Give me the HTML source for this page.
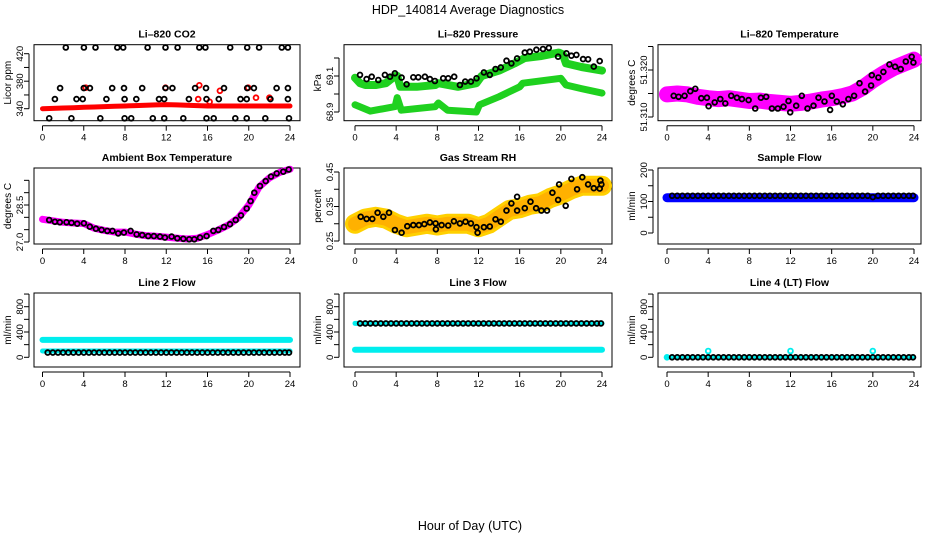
<!DOCTYPE html>
<html><head><meta charset="utf-8"><style>
html,body{margin:0;padding:0;background:#fff;}
svg{display:block;font-family:"Liberation Sans",Arial,sans-serif;}
</style></head><body>
<svg id="c" width="936" height="540" viewBox="0 0 936 540" xmlns="http://www.w3.org/2000/svg">
<text x="468" y="14" font-size="12.5" text-anchor="middle">HDP_140814  Average Diagnostics</text>
<text x="470" y="530" font-size="12.5" text-anchor="middle">Hour of Day (UTC)</text>
</svg>
<script>
// ---- data ----
const hours25 = [0,1,2,3,4,5,6,7,8,9,10,11,12,13,14,15,16,17,18,19,20,21,22,23,24];
const xTicks = [0,4,8,12,16,20,24];

const co2Red = [340,340.5,341,341.5,342,342.5,343,343.5,344,344.5,345,345.5,346,345.5,345,344.5,344,344,344,344,344,344,344,344,344];
const co2BlkHrs = [2.26,4.01,5.14,7.25,7.83,10.19,11.93,13.1,15.2,15.8,18.2,19.85,21.0,23.2,23.8,
 1.71,4.0,4.6,6.76,7.9,9.67,11.93,12.6,14.8,15.85,17.6,19.85,20.5,22.7,23.8,
 1.2,3.3,3.9,6.2,7.96,9.1,11.3,11.8,14.2,15.9,17.1,19.2,19.8,22.1,23.8,
 0.65,2.8,5.6,7.96,8.6,10.7,11.8,13.65,15.9,16.6,18.7,19.8,21.6,23.9];
const co2BlkVals = [429,429,429,429,429,429,429,429,429,429,429,429,429,429,429,
 370,370,370,370,370,370,370,370,370,370,370,370,370,370,370,
 354,354,354,354,354,354,354,354,354,354,354,354,354,354,354,
 326,326,326,326,326,326,326,326,326,326,326,326,326,326];
const co2RedOutHrs = [4.2,11.93,15.2,17.2,19.95,20.7,22,15.1,16.2];
const co2RedOutVals = [370.5,370.5,374,366,370.5,356,356,354,350];

const presHrsA = [0,0.5,1,2,3,3.9,4.1,4.4,6,7.8,8.1,10,11.8,12.3,14,15.5,16.5,18,19.8,20.2,20.5,22,24];
const presA = [69.09,69.06,69.05,69.05,69.06,69.1,69.1,69.04,69.04,69.05,69.06,69.04,69.06,69.1,69.13,69.17,69.2,69.21,69.23,69.22,69.17,69.15,69.13];
const presHrsB = [0,1.5,3.9,4.1,4.5,7.8,8.1,9,11.8,12.1,14,16,16.3,20,20.5,22,24];
const presB = [68.94,68.905,68.93,68.98,68.91,68.93,68.95,68.91,68.9,68.94,68.985,69.04,69.06,69.087,69.05,69.03,69.005];
const presBlkHrs = [0.49,1.13,1.62,2.26,2.91,3.40,3.88,4.53,5.01,5.66,6.15,6.79,7.28,7.76,8.57,9.06,9.64,10.19,10.71,11.26,11.81,12.52,13.1,13.65,14.17,14.72,15.2,15.75,16.5,16.98,17.63,18.27,18.83,19.73,20.54,21.03,21.51,22.16,22.65,23.2,23.78];
const presBlk = [69.106,69.083,69.096,69.078,69.106,69.096,69.115,69.091,69.054,69.093,69.093,69.096,69.083,69.072,69.087,69.087,69.096,69.05,69.069,69.069,69.087,69.12,69.106,69.139,69.148,69.185,69.17,69.198,69.23,69.235,69.246,69.25,69.256,69.207,69.226,69.213,69.217,69.194,69.193,69.152,69.183];

const licTemp = [51.3148,51.3150,51.3148,51.3143,51.3140,51.3138,51.3140,51.3137,51.3134,51.3135,51.3132,51.3130,51.3128,51.3130,51.3133,51.3137,51.3140,51.3144,51.3150,51.3162,51.3178,51.3192,51.3204,51.3213,51.3222];
const licBlkHrs = [0.65,1.13,1.71,2.26,2.75,3.33,3.88,4.04,4.63,5.18,5.66,6.24,6.79,7.28,7.93,8.57,9.12,9.64,10.19,10.77,11.32,11.81,11.97,12.55,13.1,13.65,14.23,14.72,15.3,15.85,16.01,16.5,17.08,17.63,18.18,18.7,19.25,19.83,19.9,20.54,21.03,21.61,22.16,22.71,23.2,23.78,23.94];
const licBlk = [51.3145,51.3143,51.3145,51.3155,51.3160,51.3140,51.3141,51.3123,51.3131,51.3138,51.3129,51.3145,51.3141,51.3138,51.3136,51.3118,51.3141,51.3143,51.3118,51.3118,51.3122,51.3134,51.3110,51.3124,51.3145,51.3118,51.3124,51.3141,51.3133,51.3115,51.3145,51.3133,51.3127,51.3138,51.3145,51.3172,51.3154,51.3167,51.3189,51.3184,51.3196,51.3212,51.3207,51.3202,51.3218,51.3228,51.3216];

const ambTemp = [27.92,27.86,27.80,27.77,27.75,27.56,27.47,27.40,27.40,27.32,27.26,27.23,27.20,27.16,27.12,27.15,27.30,27.48,27.68,27.98,28.50,29.23,29.60,29.82,29.95];
const ambBlkHrs = [0.65,1.2,1.68,2.33,2.81,3.36,4.01,4.59,5.18,5.73,6.28,6.79,7.34,7.89,8.54,9.12,9.67,10.25,10.8,11.39,11.87,12.52,13.07,13.65,14.23,14.72,15.27,15.91,16.56,17.05,17.6,18.18,18.73,19.25,19.8,20.18,20.54,21.09,21.64,22.16,22.71,23.35,23.87];
const ambBlk = [27.89,27.82,27.80,27.80,27.78,27.74,27.76,27.62,27.54,27.49,27.45,27.45,27.35,27.38,27.45,27.31,27.28,27.24,27.24,27.22,27.18,27.22,27.15,27.13,27.11,27.11,27.18,27.24,27.45,27.49,27.61,27.72,27.89,28.08,28.36,28.66,29.0,29.27,29.47,29.65,29.78,29.85,29.94];

const rhBand = [0.30,0.315,0.32,0.315,0.30,0.29,0.295,0.30,0.295,0.30,0.30,0.30,0.29,0.30,0.32,0.34,0.345,0.355,0.36,0.375,0.385,0.40,0.41,0.41,0.41];
const rhBlkHrs = [0.55,1.13,1.68,2.2,2.75,3.3,3.88,4.53,5.08,5.66,6.21,6.73,7.28,7.83,7.86,8.41,9.06,9.61,10.19,10.74,11.26,11.81,11.91,12.52,13.1,13.65,14.17,14.72,15.2,15.75,15.75,16.5,17.05,17.6,18.11,18.66,19.18,19.73,19.83,20.47,21.03,21.58,22.09,22.65,23.2,23.78,23.84,23.94];
const rhBlk = [0.320,0.314,0.314,0.332,0.320,0.332,0.282,0.274,0.293,0.296,0.296,0.299,0.304,0.301,0.284,0.296,0.295,0.307,0.301,0.306,0.301,0.290,0.274,0.290,0.292,0.313,0.306,0.338,0.359,0.338,0.378,0.345,0.364,0.345,0.338,0.338,0.390,0.369,0.414,0.352,0.430,0.400,0.435,0.414,0.403,0.402,0.425,0.414];

const flowHrs = [0.5,1,1.5,2,2.5,3,3.5,4,4.5,5,5.5,6,6.5,7,7.5,8,8.5,9,9.5,10,10.5,11,11.5,12,12.5,13,13.5,14,14.5,15,15.5,16,16.5,17,17.5,18,18.5,19,19.5,20,20.5,21,21.5,22,22.5,23,23.5,23.9];
const sampleBlue = [112,112,112,112,112,112,112,112,112,112,112,112,112,112,112,112,112,112,112,112,112,112,112,112,112];
const sampleBlk = [118,118,118,118,118,118,118,118,118,118,118,118,118,118,118,118,118,118,118,118,118,118,118,118,118,118,118,118,118,118,118,118,118,118,118,118,118,118,118,114,118,118,118,118,118,118,118,118];
const line2CyanHi = [275,275,275,275,275,275,275,275,275,275,275,275,275,275,275,275,275,275,275,275,275,275,275,275,275];
const line2CyanLo = [100,100,100,100,100,100,100,100,100,100,100,100,100,100,100,100,100,100,100,100,100,100,100,100,100];
const line2Blk = [75,75,75,75,75,75,75,75,75,75,75,75,75,75,75,75,75,75,75,75,75,75,75,75,75,75,75,75,75,75,75,75,75,75,75,75,75,75,75,75,75,75,75,75,75,75,75,75];
const line3CyanHi = [536,536,536,536,536,536,536,536,536,536,536,536,536,536,536,536,536,536,536,536,536,536,536,536,536];
const line3CyanLo = [120,120,120,120,120,120,120,120,120,120,120,120,120,120,120,120,120,120,120,120,120,120,120,120,120];
const line3Blk = [536,536,536,536,536,536,536,536,536,536,536,536,536,536,536,536,536,536,536,536,536,536,536,536,536,536,536,536,536,536,536,536,536,536,536,536,536,536,536,536,536,536,536,536,536,536,536,536];
const line4Cyan = [0,0,0,0,0,0,0,0,0,0,0,0,0,0,0,0,0,0,0,0,0,0,0,0,0];
const line4Blk = [0,0,0,0,0,0,0,0,0,0,0,0,0,0,0,0,0,0,0,0,0,0,0,0,0,0,0,0,0,0,0,0,0,0,0,0,0,0,0,0,0,0,0,0,0,0,0,0];
const line4OutHrs = [0,4,12,20];
const line4OutVals = [0,100,100,100];

// ---- drawing ----
const svg = document.getElementById('c');
const NS = 'http://www.w3.org/2000/svg';
function mk(tag, attrs, parent){const e=document.createElementNS(NS,tag);for(const k in attrs)e.setAttribute(k,attrs[k]);(parent||svg).appendChild(e);return e;}

const cols=[{l:34,r:300,x0:42.5,x1:290},{l:344,r:612,x0:355,x1:602},{l:658,r:921,x0:667,x1:914}];
const rows=[{t:44.7,b:120.7},{t:168,b:244},{t:293,b:367}];

function panel(name,ci,ri,title,ylab,v1,p1,v2,p2,yt,yl){
  const c=cols[ci],r=rows[ri];
  const g=mk('g',{});
  
  
  const xs=h=>c.x0+(c.x1-c.x0)*h/24;
  const ys=v=>p1+(v-v1)*(p2-p1)/(v2-v1);
  const box=mk('rect',{x:c.l,y:r.t,width:c.r-c.l,height:r.b-r.t,fill:'none',stroke:'#000','stroke-width':1},g);
  
  
  const tt=mk('text',{x:(c.l+c.r)/2,y:r.t-7,'font-size':10.5,'font-weight':'bold','text-anchor':'middle'},g);
  tt.textContent=title;
  
  
  const yy=(r.t+r.b)/2;
  const yt2=mk('text',{x:c.l-23,y:yy,'font-size':10,'text-anchor':'middle',transform:`rotate(-90 ${c.l-23} ${yy})`},g);
  yt2.textContent=ylab;
  
  
  const xa=mk('g',{},g);
  
  
  mk('line',{x1:xs(0),x2:xs(24),y1:r.b+5,y2:r.b+5,stroke:'#000'},xa);
  xTicks.forEach(h=>{
    mk('line',{x1:xs(h),x2:xs(h),y1:r.b+5,y2:r.b+10,stroke:'#000'},xa);
    const t=mk('text',{x:xs(h),y:r.b+20,'font-size':9.5,'text-anchor':'middle'},xa);
    t.textContent=h;
    
    
  });
  const ya=mk('g',{},g);
  
  
  const X=c.l-5;
  mk('line',{x1:X,x2:X,y1:ys(yt[0]),y2:ys(yt[yt.length-1]),stroke:'#000'},ya);
  yt.forEach(v=>mk('line',{x1:X,x2:X-5,y1:ys(v),y2:ys(v),stroke:'#000'},ya));
  yl.forEach(s=>{
    const v=parseFloat(s),lx=c.l-11;
    const t=mk('text',{x:lx,y:ys(v),'font-size':9.5,'text-anchor':'middle',transform:`rotate(-90 ${lx} ${ys(v)})`},ya);
    t.textContent=s;
    
    
  });
  const plot=mk('g',{},g);
  
  
  return {xs,ys,plot};
}
function band(P,hrs,vals,color,w,nm,op){
  const pts=hrs.map((h,i)=>P.xs(h).toFixed(1)+','+P.ys(vals[i]).toFixed(1)).join(' ');
  const pl=mk('polyline',{points:pts,fill:'none',stroke:color,'stroke-width':w,'stroke-linejoin':'round','stroke-linecap':'round',opacity:op||1},P.plot);
  
  
}
function dots(P,hrs,vals,color,nm,r,sw){
  hrs.forEach((h,i)=>{
    const ci=mk('circle',{cx:P.xs(h).toFixed(1),cy:P.ys(vals[i]).toFixed(1),r:r||2.4,fill:'none',stroke:color,'stroke-width':sw||1.8},P.plot);
    
    
  });
}

let P=panel('co2',0,0,'Li\u2013820 CO2','Licor ppm',340,108.7,420,53.7,[340,360,380,400,420],['340','380','420']);
band(P,hours25,co2Red,'#f00',5,'co2-red-band');
dots(P,co2RedOutHrs,co2RedOutVals,'#f00','co2-red-point');
dots(P,co2BlkHrs,co2BlkVals,'#000','co2-black-point');

P=panel('pressure',1,0,'Li\u2013820 Pressure','kPa',68.9,112,69.1,76,[68.9,69.0,69.1,69.2],['68.9','69.1']);
band(P,presHrsA,presA,'#1fd11f',8,'pressure-green-band-upper');
band(P,presHrsB,presB,'#1fd11f',7,'pressure-green-band-lower');
dots(P,presBlkHrs,presBlk,'#000','pressure-black-point');

P=panel('licor-temp',2,0,'Li\u2013820 Temperature','degrees C',51.31,117,51.32,70,[51.31,51.315,51.32,51.325],['51.310','51.320']);
band(P,hours25,licTemp,'#ff00ff',16,'licor-temp-magenta-band');
dots(P,licBlkHrs,licBlk,'#000','licor-temp-black-point');

P=panel('ambient-temp',0,1,'Ambient Box Temperature','degrees C',27.0,242,28.5,205,[27.0,27.5,28.0,28.5,29.0,29.5],['27.0','28.5']);
band(P,hours25,ambTemp,'#ff00ff',7,'ambient-temp-magenta-band');
dots(P,ambBlkHrs,ambBlk,'#000','ambient-temp-black-point');

P=panel('rh',1,1,'Gas Stream RH','percent',0.25,241,0.45,172,[0.25,0.30,0.35,0.40,0.45],['0.25','0.35','0.45']);
band(P,hours25,rhBand,'#ffd000',20,'rh-yellow-band');
band(P,hours25,rhBand,'#ff8c00',14,'rh-orange-band',0.45);
dots(P,rhBlkHrs,rhBlk,'#000','rh-black-point');

P=panel('sample-flow',2,1,'Sample Flow','ml/min',0,233,200,170,[0,50,100,150,200],['0','100','200']);
band(P,hours25,sampleBlue,'#0000ff',9,'sample-flow-blue-band');
dots(P,flowHrs,sampleBlk,'#000','sample-flow-black-point');

P=panel('line2-flow',0,2,'Line 2 Flow','ml/min',0,357.3,800,306.7,[0,200,400,600,800,1000],['0','400','800']);
band(P,hours25,line2CyanHi,'#00eeee',6,'line2-cyan-band-high');
band(P,hours25,line2CyanLo,'#00eeee',5,'line2-cyan-band-low');
dots(P,flowHrs,line2Blk,'#000','line2-black-point');

P=panel('line3-flow',1,2,'Line 3 Flow','ml/min',0,357.3,800,306.7,[0,200,400,600,800,1000],['0','400','800']);
band(P,hours25,line3CyanHi,'#00eeee',5,'line3-cyan-band-high');
band(P,hours25,line3CyanLo,'#00eeee',6,'line3-cyan-band-low');
dots(P,flowHrs,line3Blk,'#000','line3-black-point');

P=panel('line4-flow',2,2,'Line 4 (LT) Flow','ml/min',0,357.3,800,306.7,[0,200,400,600,800,1000],['0','400','800']);
band(P,hours25,line4Cyan,'#00eeee',4,'line4-cyan-band');
dots(P,line4OutHrs,line4OutVals,'#00eeee','line4-cyan-point');
dots(P,flowHrs,line4Blk,'#000','line4-black-point');
</script>
</body></html>
